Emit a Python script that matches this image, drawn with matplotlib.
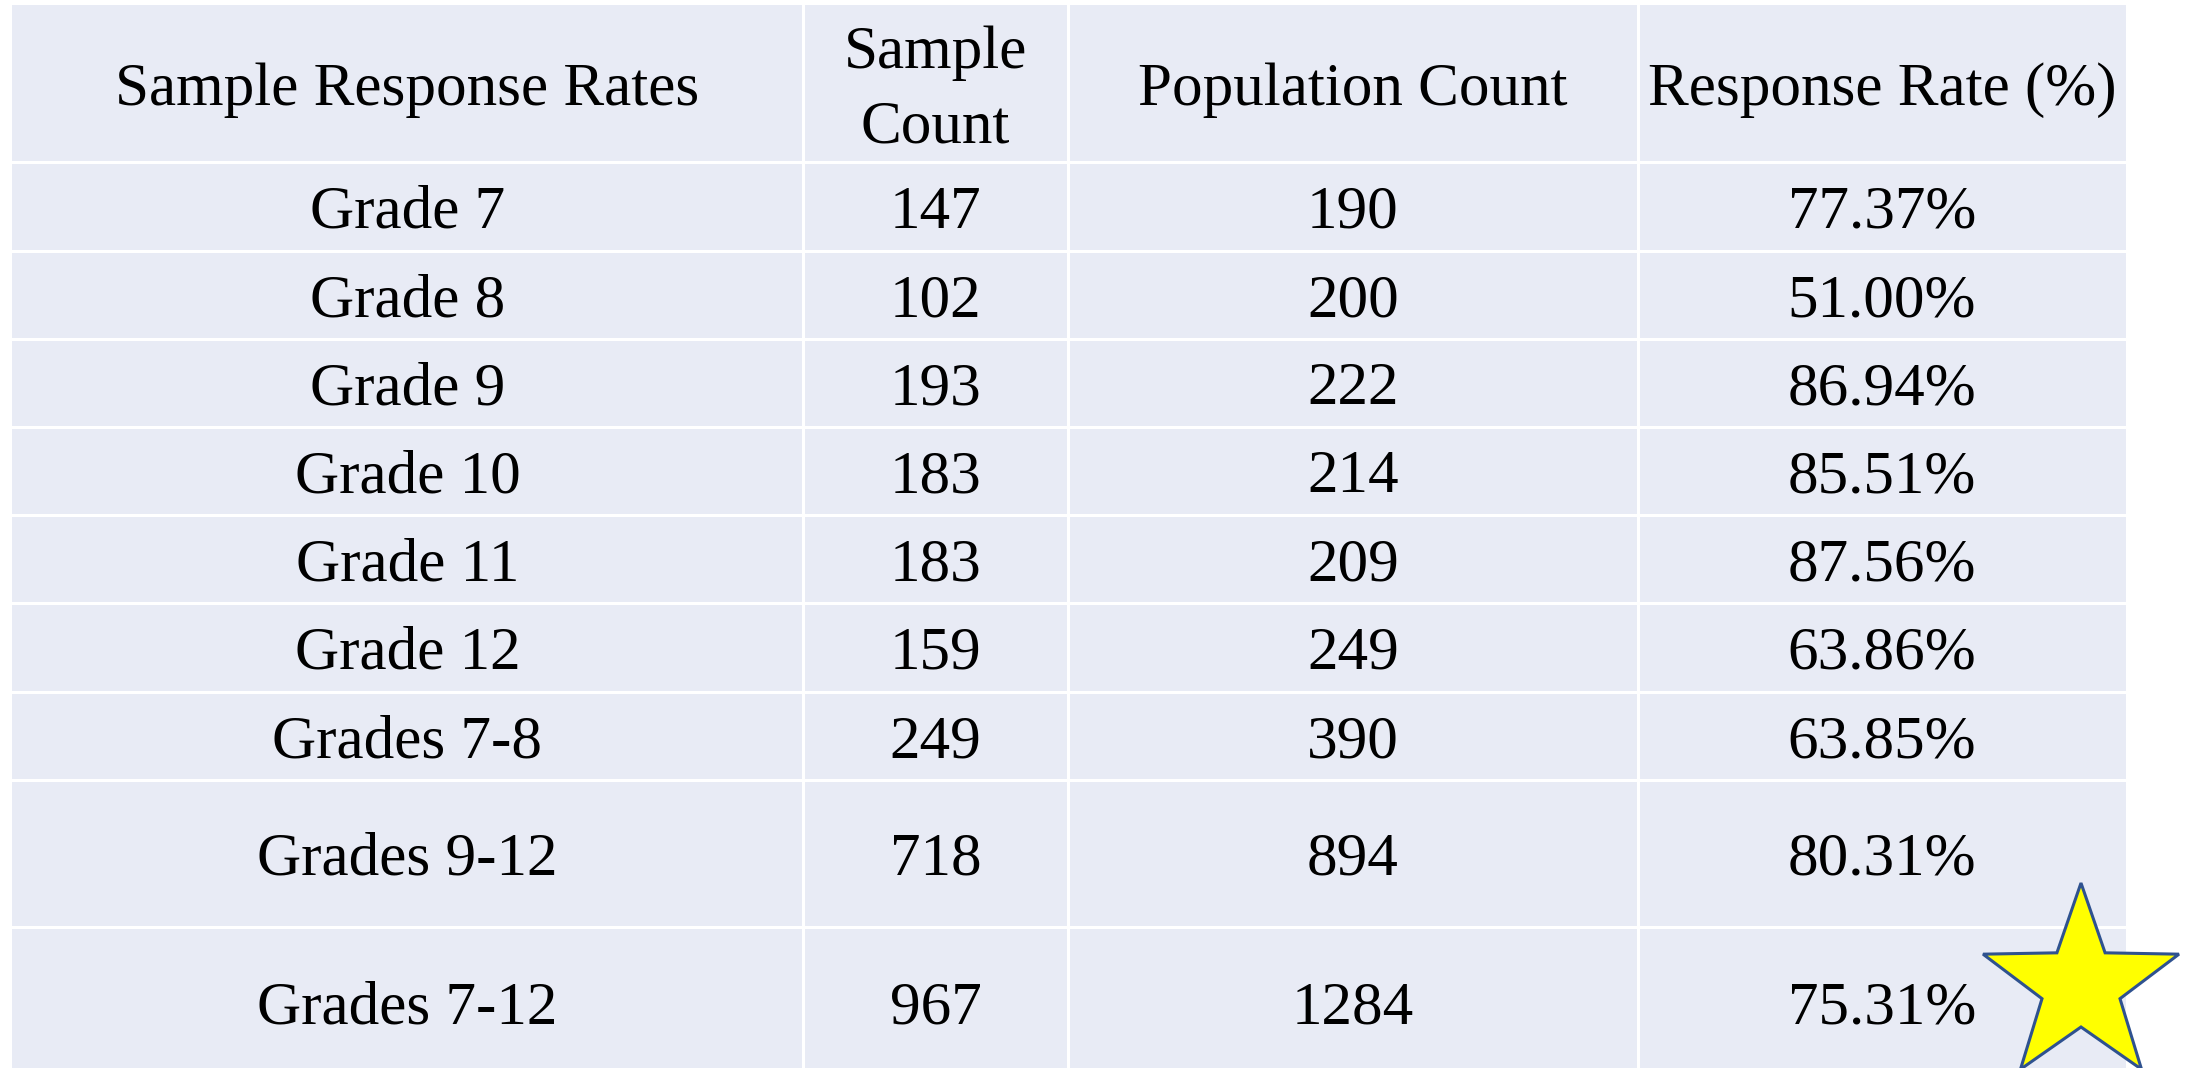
import numpy as np
import matplotlib
matplotlib.use("Agg")
import matplotlib.pyplot as plt
from matplotlib.patches import Rectangle, Polygon

# ---- data ----
header = ["Sample Response Rates", "Sample\nCount", "Population Count", "Response Rate (%)"]
groups = ["Grade 7", "Grade 8", "Grade 9", "Grade 10", "Grade 11", "Grade 12",
          "Grades 7-8", "Grades 9-12", "Grades 7-12"]
sample_count = [147, 102, 193, 183, 183, 159, 249, 718, 967]
population_count = [190, 200, 222, 214, 209, 249, 390, 894, 1284]
response_rate = ["77.37%", "51.00%", "86.94%", "85.51%", "87.56%", "63.86%",
                 "63.85%", "80.31%", "75.31%"]

# ---- layout (pixels) ----
W, H = 2195, 1068
col_edges = [12, 803, 1068, 1638, 2126]
row_edges = [5, 162, 251, 339, 427, 515, 603, 692, 780, 927, 1077]
bg = "#E8EBF5"
gap = 3

fig = plt.figure(figsize=(W / 100, H / 100), dpi=100)
ax = fig.add_axes([0, 0, 1, 1])
ax.set_xlim(0, W)
ax.set_ylim(H, 0)
ax.axis("off")

font = dict(family=["Liberation Serif", "DejaVu Serif"], fontsize=44, color="black")

rows = [header] + [[g, str(s), str(p), r] for g, s, p, r in
                   zip(groups, sample_count, population_count, response_rate)]

for i, row in enumerate(rows):
    y0, y1 = row_edges[i], row_edges[i + 1]
    for j, txt in enumerate(row):
        x0, x1 = col_edges[j], col_edges[j + 1]
        gx0 = x0 + (gap / 2 if j > 0 else 0)
        gx1 = x1 - (gap / 2 if j < len(row) - 1 else 0)
        gy0 = y0 + (gap / 2 if i > 0 else 0)
        gy1 = y1 - (gap / 2 if i < len(rows) - 1 else 0)
        ax.add_patch(Rectangle((gx0, gy0), gx1 - gx0, gy1 - gy0,
                               facecolor=bg, edgecolor="none"))
        multi = "\n" in txt
        ax.text((x0 + x1) / 2, (y0 + y1) / 2 + (7 if multi else 0), txt,
                ha="center", va="center" if multi else "center_baseline",
                linespacing=1.45, **font)

# ---- star ----
cx, cy, R, r = 2081, 986, 103, 41
ang = np.pi / 2 + np.arange(10) * np.pi / 5
rad = np.where(np.arange(10) % 2 == 0, R, r)
pts = np.column_stack([cx + rad * np.cos(ang), cy - rad * np.sin(ang)])
ax.add_patch(Polygon(pts, closed=True, facecolor="#FFFF00", edgecolor="#2F528F",
                     linewidth=2.2, joinstyle="miter", zorder=5))

fig.savefig("out.png", dpi=100, facecolor="white")
